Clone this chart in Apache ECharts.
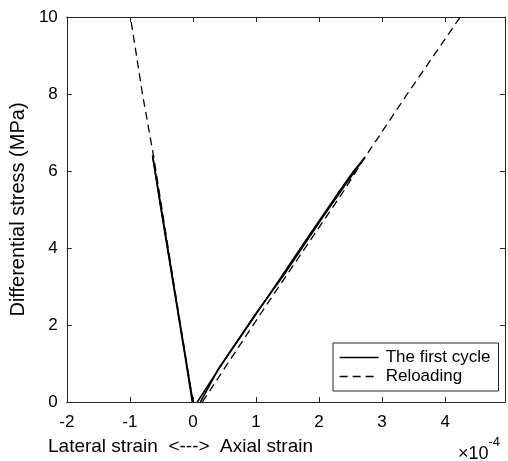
<!DOCTYPE html>
<html><head><meta charset="utf-8">
<script src="https://cdn.jsdelivr.net/npm/echarts@6/dist/echarts.min.js"></script>
<style>html,body{margin:0;padding:0;background:#fff}#c{width:508px;height:461px}</style>
</head><body><div id="c"></div>
<script>
// x in units of 1e-4 strain (negative = lateral), y in MPa
const xTicks = [-2, -1, 0, 1, 2, 3, 4];
const yTicks = [0, 2, 4, 6, 8, 10];
const firstLateralLoad = [[0,0],[-0.12,1.2],[-0.25,2.5],[-0.37,3.7],[-0.5,5.0],[-0.64,6.4]];
const firstLateralUnload = [[-0.64,6.4],[-0.51,5.05],[-0.38,3.75],[-0.26,2.55],[-0.13,1.25],[-0.01,0]];
const firstAxialLoad = [[0.07,0],[0.3,0.58],[0.6,1.33],[1.0,2.3],[1.45,3.32],[2.05,4.78],[2.45,5.72],[2.73,6.36]];
const firstAxialUnload = [[2.73,6.36],[2.55,6.0],[2.3,5.42],[1.8,4.22],[1.3,3.0],[0.8,1.8],[0.4,0.85],[0.12,0]];
const reloadLateral = [[0.0,0],[-0.3,3.05],[-0.62,6.35],[-0.8,8.0],[-0.99,10]];
const reloadAxial = [[0.15,0],[0.6,1.12],[1.2,2.6],[1.8,4.05],[2.4,5.5],[2.73,6.36],[3.4,8.0],[4.24,10]];
const seriesNames = ['The first cycle', 'Reloading'];

const axisColor = '#262626';
const font = 'Liberation Sans, Arial, Helvetica, sans-serif';
const solid = {color:'#000', width:1.6, type:'solid'};
const dashed = {color:'#000', width:1.3, type:[8,5]};
function line(name, data, style){
  return {name, type:'line', data, showSymbol:false, symbol:'none', lineStyle:style, itemStyle:{color:'#000'}, animation:false, z:3};
}
const chart = echarts.init(document.getElementById('c'), null, {renderer:'canvas'});
chart.setOption({
  animation:false,
  backgroundColor:'#fff',
  textStyle:{fontFamily:font},
  grid:{left:62, right:3, top:17, bottom:59, containLabel:false},
  xAxis:[{
    type:'value', min:-2, max:4.95, interval:1,
    axisLine:{show:true, onZero:false, lineStyle:{color:axisColor, width:1}},
    axisTick:{show:true, inside:true, length:5, lineStyle:{color:axisColor}},
    axisLabel:{color:'#000', fontSize:17, fontFamily:font, margin:12,
      formatter:v => xTicks.includes(Math.round(v*1000)/1000) ? String(v) : ''},
    splitLine:{show:false}
  },{
    type:'value', position:'top', min:-2, max:4.95, interval:1,
    axisLine:{show:true, onZero:false, lineStyle:{color:axisColor, width:1}},
    axisTick:{show:true, inside:true, length:5, lineStyle:{color:axisColor}},
    axisLabel:{show:false}, splitLine:{show:false}
  }],
  yAxis:[{
    type:'value', min:0, max:10, interval:2,
    name:'Differential stress (MPa)', nameLocation:'middle', nameGap:34,
    nameTextStyle:{color:'#000', fontSize:20, fontFamily:font},
    axisLine:{show:true, onZero:false, lineStyle:{color:axisColor, width:1}},
    axisTick:{show:true, inside:true, length:5, lineStyle:{color:axisColor}},
    axisLabel:{color:'#000', fontSize:17, fontFamily:font, margin:9,
      formatter:v => yTicks.includes(v) ? String(v) : ''},
    splitLine:{show:false}
  },{
    type:'value', position:'right', min:0, max:10, interval:2,
    axisLine:{show:true, onZero:false, lineStyle:{color:axisColor, width:1}},
    axisTick:{show:true, inside:true, length:5, lineStyle:{color:axisColor}},
    axisLabel:{show:false}, splitLine:{show:false}
  }],
  legend:{
    data:seriesNames,
    orient:'vertical', left:333, top:343,
    backgroundColor:'#fff', borderColor:axisColor, borderWidth:1,
    padding:[6,8,6,6], itemGap:2, itemWidth:39, itemHeight:14,
    itemStyle:{opacity:0},
    lineStyle:{width:1.3},
    textStyle:{color:'#000', fontSize:17, fontFamily:font, padding:[0,12,0,2]},
    selectedMode:false
  },
  series:[
    line(seriesNames[0], firstLateralLoad, solid),
    line(seriesNames[0], firstLateralUnload, solid),
    line(seriesNames[0], firstAxialLoad, solid),
    line(seriesNames[0], firstAxialUnload, solid),
    line(seriesNames[1], reloadLateral, dashed),
    line(seriesNames[1], reloadAxial, dashed)
  ],
  graphic:[
    {type:'text', left:48, top:437, style:{text:'Lateral strain  <--->  Axial strain', fill:'#000', font:'19px '+font}},
    {type:'text', left:458, top:436, style:{
      text:'{a|×10}{b|-4}', fill:'#000',
      rich:{a:{fontSize:18, fontFamily:font, fill:'#000', padding:[9,0,0,0]}, b:{fontSize:13, fontFamily:font, fill:'#000', verticalAlign:'top'}}
    }}
  ]
});
</script></body></html>
